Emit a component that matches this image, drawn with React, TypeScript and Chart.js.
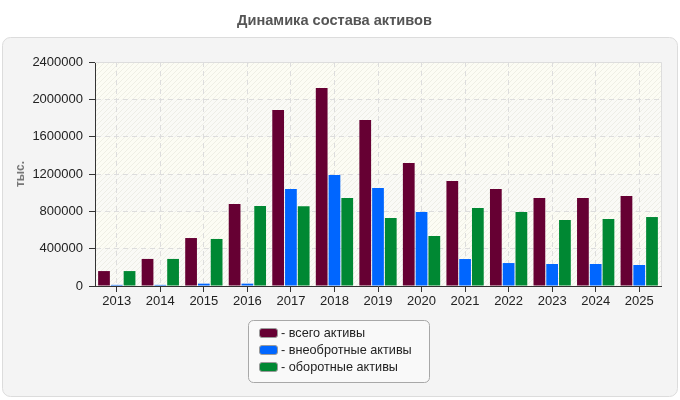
import React, { useEffect, useRef } from 'react';
import { Chart, registerables } from 'chart.js';

Chart.register(...registerables);

const FONT = "'Liberation Sans', Arial, sans-serif";

const chartTitle = 'Динамика состава активов';
const yAxisTitle = 'тыс.';
const categories = ['2013', '2014', '2015', '2016', '2017', '2018', '2019', '2020', '2021', '2022', '2023', '2024', '2025'];
const seriesLabels = ['всего активы', 'внеобротные активы', 'оборотные активы'];
const seriesColors = ['#660033', '#0066ff', '#008833'];
const totalAssets = [160000, 290000, 514000, 878000, 1886000, 2121000, 1779000, 1318000, 1125000, 1039000, 943000, 943000, 964000];
const nonCurrentAssets = [12000, 12000, 25000, 25000, 1040000, 1190000, 1050000, 793000, 289000, 246000, 236000, 236000, 225000];
const currentAssets = [160000, 290000, 504000, 857000, 855000, 943000, 729000, 536000, 836000, 793000, 707000, 718000, 739000];
const yMin = 0;
const yMax = 2400000;
const yStep = 400000;

function rr(ctx: CanvasRenderingContext2D, x: number, y: number, w: number, h: number, r: number) {
  ctx.beginPath();
  ctx.moveTo(x + r, y);
  ctx.lineTo(x + w - r, y);
  ctx.arcTo(x + w, y, x + w, y + r, r);
  ctx.lineTo(x + w, y + h - r);
  ctx.arcTo(x + w, y + h, x + w - r, y + h, r);
  ctx.lineTo(x + r, y + h);
  ctx.arcTo(x, y + h, x, y + h - r, r);
  ctx.lineTo(x, y + r);
  ctx.arcTo(x, y, x + r, y, r);
  ctx.closePath();
}

const decorPlugin = {
  id: 'decor',
  beforeDraw(chart: any) {
    const ctx: CanvasRenderingContext2D = chart.ctx;
    const { left, right, top, bottom } = chart.chartArea;
    ctx.save();
    // outer panel
    rr(ctx, 2.5, 37.5, 675, 359, 8);
    ctx.fillStyle = '#f4f4f4';
    ctx.fill();
    ctx.strokeStyle = '#dcdcdc';
    ctx.lineWidth = 1;
    ctx.stroke();
    // plot background bands
    const ys = chart.scales.y;
    const ticks = ys.ticks;
    for (let i = 0; i < ticks.length - 1; i++) {
      const y1 = ys.getPixelForValue(ticks[i].value);
      const y2 = ys.getPixelForValue(ticks[i + 1].value);
      ctx.fillStyle = i % 2 === 0 ? '#fafaf6' : '#fcfcf4';
      ctx.fillRect(left, y2, right - left, y1 - y2);
    }
    // hatching
    ctx.beginPath();
    ctx.rect(left, top, right - left, bottom - top);
    ctx.clip();
    ctx.strokeStyle = 'rgba(225,225,215,0.55)';
    ctx.lineWidth = 1;
    const h = bottom - top;
    ctx.beginPath();
    for (let x = left - h; x < right; x += 5) {
      ctx.moveTo(x, bottom);
      ctx.lineTo(x + h, top);
    }
    ctx.stroke();
    ctx.restore();
  },
  afterDraw(chart: any) {
    const ctx: CanvasRenderingContext2D = chart.ctx;
    const { left, right, top, bottom } = chart.chartArea;
    ctx.save();
    // plot top/right border
    ctx.strokeStyle = '#dddddd';
    ctx.lineWidth = 1;
    ctx.beginPath();
    ctx.moveTo(left, Math.round(top) + 0.5);
    ctx.lineTo(Math.round(right) + 0.5, Math.round(top) + 0.5);
    ctx.lineTo(Math.round(right) + 0.5, bottom);
    ctx.stroke();
    // legend
    rr(ctx, 248.5, 320.5, 181, 62, 5);
    ctx.fillStyle = '#f9f9f9';
    ctx.fill();
    ctx.strokeStyle = '#a8a8a8';
    ctx.stroke();
    ctx.font = '12.7px ' + FONT;
    ctx.textBaseline = 'middle';
    ctx.textAlign = 'left';
    chart.data.datasets.forEach((ds: any, i: number) => {
      const cy = 333 + i * 17;
      rr(ctx, 259.5, cy - 4.5, 18, 9, 2.5);
      ctx.fillStyle = ds.backgroundColor;
      ctx.fill();
      ctx.strokeStyle = '#9a9a9a';
      ctx.stroke();
      ctx.fillStyle = '#222222';
      ctx.fillText('- ' + ds.label, 281, cy + 0.5);
    });
    ctx.restore();
  },
};

export default function App() {
  const ref = useRef<HTMLCanvasElement>(null);
  useEffect(() => {
    document.body.style.margin = '0';
    Chart.defaults.font.family = FONT;
    const datasetsData = [totalAssets, nonCurrentAssets, currentAssets];
    const chart = new Chart(ref.current as HTMLCanvasElement, {
      type: 'bar',
      data: {
        labels: categories,
        datasets: seriesLabels.map((label, i) => ({
          label,
          data: datasetsData[i],
          backgroundColor: seriesColors[i],
          borderWidth: 0,
          barPercentage: 0.92,
          categoryPercentage: 0.88,
        })),
      },
      options: {
        responsive: false,
        animation: false,
        devicePixelRatio: 1,
        layout: { padding: { left: 8, right: 19, top: 0, bottom: 0 } },
        plugins: {
          legend: { display: false },
          tooltip: { enabled: false },
          title: {
            display: true,
            text: chartTitle,
            color: '#555555',
            font: { size: 14.6, weight: 'bold', family: FONT },
            padding: { top: 12, bottom: 32.5 },
          },
        },
        scales: {
          x: {
            offset: true,
            grid: {
              offset: false,
              color: '#dddddd',
              tickColor: '#333333',
              tickLength: 6,
              drawTicks: true,
            },
            border: { color: '#333333', width: 1, dash: [5, 4] },
            ticks: { color: '#222222', font: { size: 13 }, padding: 2, maxRotation: 0, autoSkip: false },
            afterFit: (s: any) => { s.height = 114; },
          },
          y: {
            min: yMin,
            max: yMax,
            grid: { color: '#dddddd', tickColor: '#333333', tickLength: 6 },
            border: { color: '#333333', width: 1, dash: [5, 4] },
            ticks: {
              stepSize: yStep,
              color: '#222222',
              font: { size: 13 },
              padding: 6,
              callback: (v: any) => String(v),
            },
            title: {
              display: true,
              text: yAxisTitle,
              color: '#777777',
              font: { size: 12, weight: 'bold' },
              padding: { top: 5, bottom: 0 },
            },
            afterFit: (s: any) => { s.width = 87; },
          },
        },
      },
      plugins: [decorPlugin],
    });
    return () => chart.destroy();
  }, []);
  return (
    <div style={{ width: 680, height: 400 }}>
      <canvas ref={ref} width={680} height={400} style={{ display: 'block' }} />
    </div>
  );
}
